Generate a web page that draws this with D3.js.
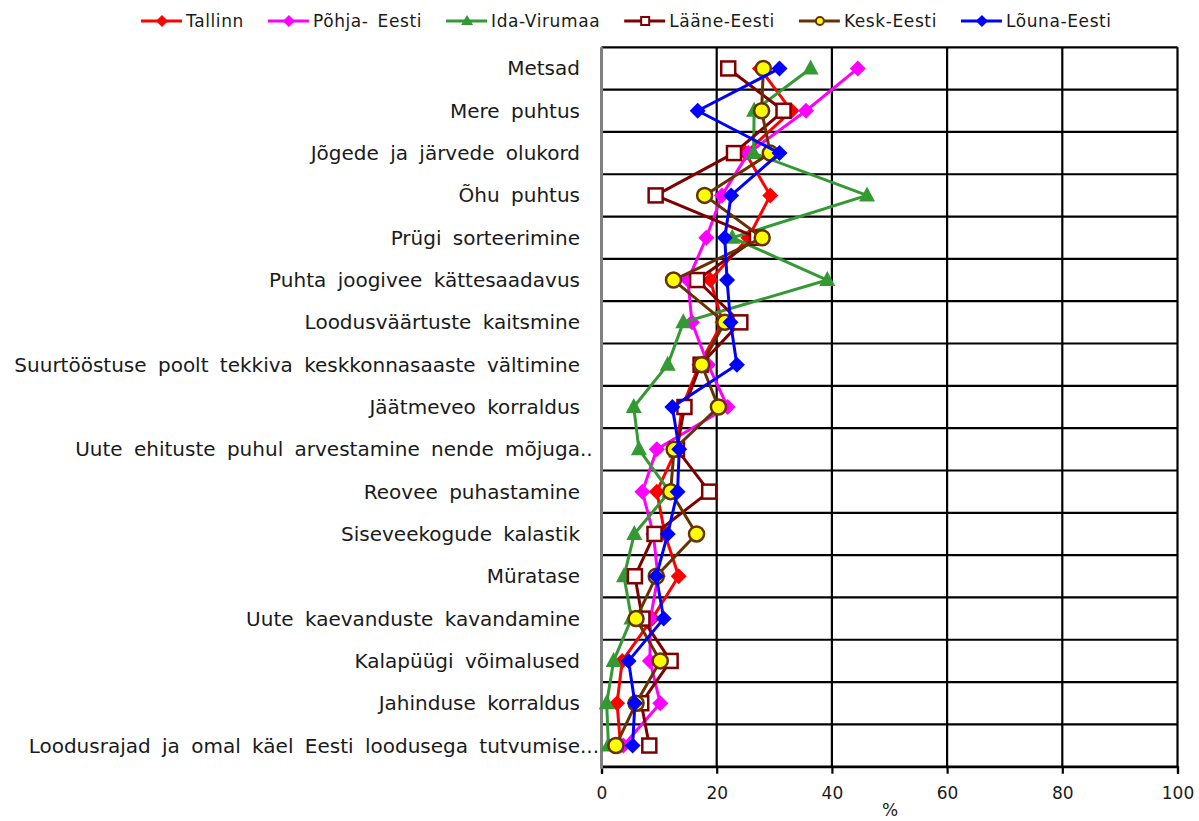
<!DOCTYPE html>
<html>
<head>
<meta charset="utf-8">
<script src="https://cdn.jsdelivr.net/npm/d3@7"></script>
<style>
  body { margin: 0; background: #fff; }
  text { font-family: "DejaVu Sans", Verdana, sans-serif; fill: #1a1a1a; }
</style>
</head>
<body>
<div id="chart"></div>
<script>
var svgWidth = 1199;
var svgHeight = 821;

var margin = { top: 47.3, right: 21.5, bottom: 54.3, left: 601.5 };
var width = svgWidth - margin.left - margin.right;
var height = svgHeight - margin.top - margin.bottom;

// categories, top to bottom
var categories = [
  "Metsad",
  "Mere puhtus",
  "Jõgede ja järvede olukord",
  "Õhu puhtus",
  "Prügi sorteerimine",
  "Puhta joogivee kättesaadavus",
  "Loodusväärtuste kaitsmine",
  "Suurtööstuse poolt tekkiva keskkonnasaaste vältimine",
  "Jäätmeveo korraldus",
  "Uute ehituste puhul arvestamine nende mõjuga..",
  "Reovee puhastamine",
  "Siseveekogude kalastik",
  "Müratase",
  "Uute kaevanduste kavandamine",
  "Kalapüügi võimalused",
  "Jahinduse korraldus",
  "Loodusrajad ja omal käel Eesti loodusega tutvumise..."
];

var seriesNames = ["Tallinn", "Põhja- Eesti", "Ida-Virumaa", "Lääne-Eesti", "Kesk-Eesti", "Lõuna-Eesti"];

var tallinn    = [27.5, 33.0, 25.0, 29.3, 25.5, 18.9, 21.0, 17.0, 14.0, 13.0, 9.6, 11.0, 13.4, 8.8, 3.6, 2.7, 3.3];
var pohjaEesti = [44.5, 35.5, 25.5, 20.9, 18.2, 15.0, 15.7, 18.5, 21.9, 9.6, 7.1, 9.0, 9.8, 8.5, 8.4, 10.2, 3.8];
var idaVirumaa = [36.3, 26.5, 26.4, 46.1, 22.7, 39.2, 14.2, 11.5, 5.6, 6.5, 11.8, 5.7, 3.9, 5.2, 2.1, 0.9, 1.2];
var laaneEesti = [22.0, 31.6, 23.0, 9.4, 27.0, 16.6, 24.1, 17.2, 14.4, 13.1, 18.7, 9.2, 5.8, 7.1, 12.0, 6.9, 8.3];
var keskEesti  = [28.1, 27.8, 29.3, 17.9, 27.9, 12.5, 21.4, 17.4, 20.3, 12.6, 12.0, 16.5, 9.5, 6.0, 10.2, 6.0, 2.5];
var lounaEesti = [30.9, 16.7, 30.9, 22.5, 21.4, 21.8, 22.4, 23.5, 12.3, 13.5, 13.2, 11.5, 9.5, 10.8, 4.7, 5.8, 5.4];

var xTicks = [0, 20, 40, 60, 80, 100];

var seriesValues = [tallinn, pohjaEesti, idaVirumaa, laaneEesti, keskEesti, lounaEesti];
var styles = [
  { color: "#ff0000", marker: "diamond", fill: "#ff0000" },
  { color: "#ff00ff", marker: "diamond", fill: "#ff00ff" },
  { color: "#339933", marker: "triangle", fill: "#339933" },
  { color: "#800000", marker: "square", fill: "#ffffff" },
  { color: "#663300", marker: "circle", fill: "#ffff00" },
  { color: "#0000ff", marker: "diamond", fill: "#0000ff" }
];

var svg = d3.select("#chart")
  .append("svg")
  .attr("width", svgWidth)
  .attr("height", svgHeight);

var chartGroup = svg.append("g")
  .attr("transform", `translate(${margin.left}, ${margin.top})`);

var xScale = d3.scaleLinear().domain([0, 100]).range([0, width]);
var yScale = d3.scaleBand().domain(categories).range([0, height]);

// horizontal grid lines at row borders
var rowEdges = categories.map(c => yScale(c)).concat([height]);
chartGroup.selectAll(".hgrid").data(rowEdges).enter()
  .append("line")
  .attr("x1", 0).attr("x2", width)
  .attr("y1", d => d).attr("y2", d => d)
  .attr("stroke", "#000").attr("stroke-width", 2.2);

// vertical grid lines
chartGroup.selectAll(".vgrid").data(xTicks.slice(1)).enter()
  .append("line")
  .attr("x1", d => xScale(d)).attr("x2", d => xScale(d))
  .attr("y1", 0).attr("y2", height)
  .attr("stroke", "#000").attr("stroke-width", 2.2);

// bottom axis
var bottomAxis = d3.axisBottom(xScale).tickValues(xTicks).tickSize(7).tickPadding(13);
var xAxisG = chartGroup.append("g")
  .attr("transform", `translate(0, ${height})`)
  .call(bottomAxis);
xAxisG.select(".domain").attr("stroke", "#000").attr("stroke-width", 2.2);
xAxisG.selectAll(".tick line").attr("stroke", "#000").attr("stroke-width", 2.2);
xAxisG.selectAll(".tick text")
  .attr("font-size", "17px")
  .attr("font-family", "DejaVu Sans, Verdana, sans-serif")
  .attr("fill", "#1a1a1a");

// left axis line (grey)
chartGroup.append("line")
  .attr("x1", 0).attr("x2", 0)
  .attr("y1", 0).attr("y2", height + 2)
  .attr("stroke", "#808080").attr("stroke-width", 3);

// category labels
var labelG = chartGroup.append("g");
categories.forEach(function(c) {
  var m = c.match(/^(.*?)(\.+)$/);
  var yy = yScale(c) + yScale.bandwidth() / 2;
  labelG.append("text")
    .attr("x", -21.5)
    .attr("y", yy)
    .attr("dy", "0.35em")
    .attr("text-anchor", "end")
    .attr("font-size", "20px")
    .attr("word-spacing", "5px")
    .text(m ? m[1] : c);
  if (m) {
    labelG.append("text")
      .attr("x", -21.5)
      .attr("y", yy)
      .attr("dy", "0.35em")
      .attr("font-size", "20px")
      .text(m[2]);
  }
});

// axis title
svg.append("text")
  .attr("x", 890)
  .attr("y", 816)
  .attr("text-anchor", "middle")
  .attr("font-size", "17px")
  .text("%");

function drawMarker(g, type, x, y, st) {
  if (type === "diamond") {
    g.append("path")
      .attr("d", `M${x},${y - 8}L${x + 8},${y}L${x},${y + 8}L${x - 8},${y}Z`)
      .attr("fill", st.fill);
  } else if (type === "triangle") {
    g.append("path")
      .attr("d", `M${x},${y - 9}L${x + 8},${y + 6}L${x - 8},${y + 6}Z`)
      .attr("fill", st.fill);
  } else if (type === "square") {
    g.append("rect")
      .attr("x", x - 7).attr("y", y - 7)
      .attr("width", 14).attr("height", 14)
      .attr("fill", st.fill)
      .attr("stroke", st.color).attr("stroke-width", 2.5);
  } else {
    g.append("circle")
      .attr("cx", x).attr("cy", y).attr("r", 7.5)
      .attr("fill", st.fill)
      .attr("stroke", st.color).attr("stroke-width", 2.5);
  }
}

var line = d3.line()
  .x(d => xScale(d.v))
  .y(d => yScale(d.c) + yScale.bandwidth() / 2);

seriesValues.forEach(function(vals, i) {
  var st = styles[i];
  var pts = vals.map((v, j) => ({ c: categories[j], v: v }));
  var g = chartGroup.append("g");
  g.append("path")
    .datum(pts)
    .attr("d", line)
    .attr("fill", "none")
    .attr("stroke", st.color)
    .attr("stroke-width", 3)
    .attr("stroke-linejoin", "round");
  pts.forEach(function(p) {
    drawMarker(g, st.marker, xScale(p.v), yScale(p.c) + yScale.bandwidth() / 2, st);
  });
});

// legend
var legend = svg.append("g");
var lx = 141;
var ly = 21;
seriesNames.forEach(function(name, i) {
  var st = styles[i];
  var item = legend.append("g");
  item.append("line")
    .attr("x1", lx).attr("x2", lx + 41)
    .attr("y1", ly).attr("y2", ly)
    .attr("stroke", st.color).attr("stroke-width", 3);
  var mx = lx + 21;
  if (st.marker === "diamond") {
    item.append("path")
      .attr("d", `M${mx},${ly - 6}L${mx + 6},${ly}L${mx},${ly + 6}L${mx - 6},${ly}Z`)
      .attr("fill", st.fill);
  } else if (st.marker === "triangle") {
    item.append("path")
      .attr("d", `M${mx},${ly - 6}L${mx + 6},${ly + 4}L${mx - 6},${ly + 4}Z`)
      .attr("fill", st.fill);
  } else if (st.marker === "square") {
    item.append("rect")
      .attr("x", mx - 4).attr("y", ly - 4).attr("width", 8).attr("height", 8)
      .attr("fill", st.fill).attr("stroke", st.color).attr("stroke-width", 2);
  } else {
    item.append("circle")
      .attr("cx", mx).attr("cy", ly).attr("r", 4)
      .attr("fill", st.fill).attr("stroke", st.color).attr("stroke-width", 2);
  }
  var t = item.append("text")
    .attr("x", lx + 45)
    .attr("y", ly)
    .attr("dy", "0.35em")
    .attr("font-size", "17px")
    .attr("letter-spacing", "0.6px")
    .attr("word-spacing", "3px")
    .text(name);
  lx = lx + 45 + t.node().getComputedTextLength() + 24;
});
</script>
</body>
</html>
